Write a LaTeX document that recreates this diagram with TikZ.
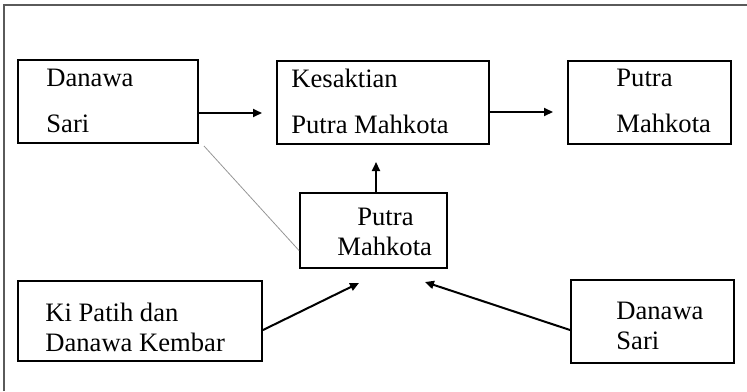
\documentclass[tikz,border=0pt]{standalone}
\usepackage{fontspec}
\setmainfont{Liberation Serif}
\usetikzlibrary{arrows.meta}
\definecolor{framegrey}{RGB}{90,90,90}
\definecolor{linegrey}{RGB}{150,150,150}
\tikzset{%
    kotak/.style={draw, line width=1pt, rectangle, inner sep=0pt},
    isi/.style={anchor=west, inner sep=0pt, align=left, font=\fontsize{13.3}{23}\selectfont},
    isirapat/.style={isi, font=\fontsize{13.3}{15}\selectfont},
    panah/.style={line width=1pt, -{Triangle[length=4.5pt,width=4pt]}}
}

\begin{document}
\begin{tikzpicture}[x=0.5pt,y=-0.5pt]
    \useasboundingbox (0,0) rectangle (747,391);
    \draw[framegrey, line width=0.7pt] (4,391) -- (4,5) -- (747,5);
    % kotak
    \node[kotak, minimum width=90pt, minimum height=41.5pt] (ds) at (108,101.5) {};
    \node[kotak, minimum width=106pt, minimum height=41.5pt] (kp) at (383,102.5) {};
    \node[kotak, minimum width=81.5pt, minimum height=41.5pt] (pm) at (649.5,102.5) {};
    \node[kotak, minimum width=73.5pt, minimum height=37.5pt] (pc) at (373.5,230.5) {};
    \node[kotak, minimum width=122pt, minimum height=40pt] (kb) at (140,321) {};
    \node[kotak, minimum width=81.5pt, minimum height=41.5pt] (sd) at (652.5,321.5) {};
    % teks
    \node[isi] (tds) at (46,101) {Danawa\\Sari};
    \node[isi] (tkp) at (291,101) {Kesaktian\\Putra Mahkota};
    \node[isi] (tpm) at (616,101) {Putra\\Mahkota};
    \node[isirapat] (tpc) at (337,232) {\hspace*{10pt}Putra\\Mahkota};
    \node[isirapat] (tkb) at (45,327) {Ki Patih dan\\Danawa Kembar};
    \node[isirapat] (tsd) at (616,326) {Danawa\\Sari};
    % ujung panah
    \coordinate (u1) at (262,113);
    \coordinate (u2) at (553,112);
    \coordinate (u3) at (376,162);
    \coordinate (u4) at (359,283);
    \coordinate (u5) at (425,282);
    \draw[panah] (ds.east |- u1) -- (u1);
    \draw[panah] (kp.east |- u2) -- (u2);
    \draw[panah] (pc.north -| u3) -- (u3);
    \draw[panah] ([yshift=-4.5pt]kb.east) -- (u4);
    \draw[panah] ([yshift=-4.25pt]sd.west) -- (u5);
    \draw[linegrey, line width=0.4pt] ([xshift=2.5pt,yshift=-1pt]ds.south east) -- ([yshift=-10pt]pc.west);
\end{tikzpicture}
\end{document}
